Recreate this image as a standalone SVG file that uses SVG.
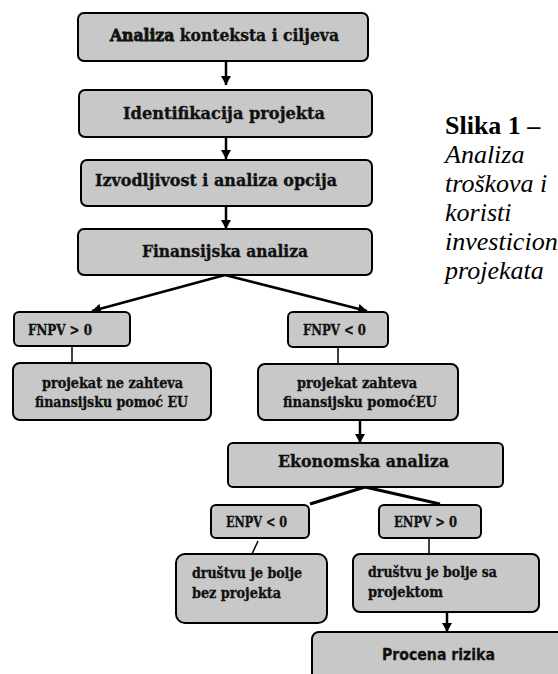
<svg xmlns="http://www.w3.org/2000/svg" width="558" height="674" viewBox="0 0 558 674">
<defs>
<style>
.box{fill:#c8c8c8;stroke:#000;stroke-width:2}
.t{font-family:"DejaVu Serif","Liberation Serif",serif;font-weight:bold;fill:#111;stroke:#111;stroke-width:0.35}
.s{font-family:"DejaVu Sans","Liberation Sans",sans-serif;font-weight:bold;fill:#111;stroke:#111;stroke-width:0.3}
.cap{font-family:"Liberation Serif","Times New Roman",serif;font-size:26px;fill:#000}
.arr{stroke:#000;stroke-width:2.5;fill:none;marker-end:url(#ah)}
.thk{stroke:#000;stroke-width:3;fill:none}
.thn{stroke:#000;stroke-width:1.5;fill:none}
</style>
<marker id="ah" markerUnits="userSpaceOnUse" markerWidth="11" markerHeight="11" refX="9" refY="5.5" orient="auto">
<path d="M0,0.5 L9,5.5 L0,10.5 z" fill="#000"/>
</marker>
</defs>
<rect width="558" height="674" fill="#fff"/>

<g id="connectors">
<line class="arr" x1="226" y1="61" x2="226" y2="85"/>
<line class="arr" x1="226" y1="137" x2="226" y2="159"/>
<line class="arr" x1="226" y1="206" x2="226" y2="229"/>
<line class="arr" x1="225" y1="275" x2="92" y2="311"/>
<line class="arr" x1="225" y1="275" x2="367" y2="311"/>
<line class="thn" x1="72" y1="346" x2="72" y2="363"/>
<line class="thn" x1="338" y1="347" x2="338" y2="364"/>
<line class="arr" x1="360" y1="420" x2="360" y2="443"/>
<line class="thk" x1="365" y1="487" x2="310" y2="504"/>
<line class="thk" x1="365" y1="487" x2="440" y2="504"/>
<line class="thn" x1="258" y1="541" x2="252" y2="554"/>
<line class="thn" x1="429" y1="538" x2="429" y2="554"/>
<line class="arr" x1="447" y1="612" x2="447" y2="632"/>
</g>

<g id="n1"><rect class="box" x="78" y="13" width="290" height="48" rx="6"/>
<text class="t" font-size="16" x="110" y="41" textLength="229" lengthAdjust="spacingAndGlyphs"><tspan stroke-width="0.8">Analiza</tspan> konteksta i ciljeva</text></g>

<g id="n2"><rect class="box" x="79" y="90" width="293" height="47" rx="6"/>
<text class="t" font-size="16" x="123" y="119" textLength="202" lengthAdjust="spacingAndGlyphs">Identifikacija projekta</text></g>

<g id="n3"><rect class="box" x="81" y="160" width="291" height="46" rx="6"/>
<text class="t" font-size="16" x="95" y="186" textLength="242" lengthAdjust="spacingAndGlyphs">Izvodljivost i analiza opcija</text></g>

<g id="n4"><rect class="box" x="78" y="229" width="294" height="46" rx="6"/>
<text class="t" font-size="16" x="142" y="257" textLength="166" lengthAdjust="spacingAndGlyphs">Finansijska analiza</text></g>

<g id="n5"><rect class="box" x="14" y="312" width="116" height="34" rx="5"/>
<text class="t" font-size="14" x="28" y="335" textLength="64" lengthAdjust="spacingAndGlyphs">FNPV &gt; 0</text></g>

<g id="n6"><rect class="box" x="288" y="312" width="100" height="35" rx="5"/>
<text class="t" font-size="14" x="303" y="335" textLength="63" lengthAdjust="spacingAndGlyphs">FNPV &lt; 0</text></g>

<g id="n7"><rect class="box" x="13" y="363" width="198" height="57" rx="7"/>
<text class="t" font-size="14" x="42" y="388" textLength="141" lengthAdjust="spacingAndGlyphs">projekat ne zahteva</text>
<text class="t" font-size="14" x="35" y="407" textLength="153" lengthAdjust="spacingAndGlyphs">finansijsku pomoć EU</text></g>

<g id="n8"><rect class="box" x="258" y="364" width="200" height="56" rx="7"/>
<text class="t" font-size="14" x="297" y="388" textLength="120" lengthAdjust="spacingAndGlyphs">projekat zahteva</text>
<text class="t" font-size="14" x="283" y="407" textLength="154" lengthAdjust="spacingAndGlyphs">finansijsku pomoćEU</text></g>

<g id="n9"><rect class="box" x="228" y="443" width="275" height="44" rx="5"/>
<text class="t" font-size="16" x="278" y="467" textLength="171" lengthAdjust="spacingAndGlyphs">Ekonomska analiza</text></g>

<g id="n10"><rect class="box" x="211" y="505" width="98" height="33" rx="5"/>
<text class="t" font-size="14" x="226" y="527" textLength="61" lengthAdjust="spacingAndGlyphs">ENPV &lt; 0</text></g>

<g id="n11"><rect class="box" x="379" y="505" width="102" height="33" rx="5"/>
<text class="t" font-size="14" x="394" y="527" textLength="63" lengthAdjust="spacingAndGlyphs">ENPV &gt; 0</text></g>

<g id="n12"><rect class="box" x="176" y="554" width="151" height="69" rx="9"/>
<text class="t" font-size="15" x="192" y="578" textLength="110" lengthAdjust="spacingAndGlyphs">društvu je bolje</text>
<text class="t" font-size="15" x="192" y="598" textLength="89" lengthAdjust="spacingAndGlyphs">bez projekta</text></g>

<g id="n13"><rect class="box" x="353" y="554" width="186" height="58" rx="7"/>
<text class="t" font-size="15" x="368" y="577" textLength="129" lengthAdjust="spacingAndGlyphs">društvu je bolje sa</text>
<text class="t" font-size="15" x="368" y="597" textLength="75" lengthAdjust="spacingAndGlyphs">projektom</text></g>

<g id="n14"><rect class="box" x="312" y="632" width="260" height="60" rx="7"/>
<text class="s" font-size="16" x="382" y="660" textLength="113" lengthAdjust="spacingAndGlyphs">Procena rizika</text></g>

<g id="caption">
<text class="cap" x="445" y="134" font-weight="bold">Slika 1 –</text>
<text class="cap" x="445" y="163" font-style="italic">Analiza</text>
<text class="cap" x="445" y="192" font-style="italic">troškova i</text>
<text class="cap" x="445" y="221" font-style="italic">koristi</text>
<text class="cap" x="445" y="250" font-style="italic">investicion</text>
<text class="cap" x="445" y="279" font-style="italic">projekata</text>
</g>
</svg>
